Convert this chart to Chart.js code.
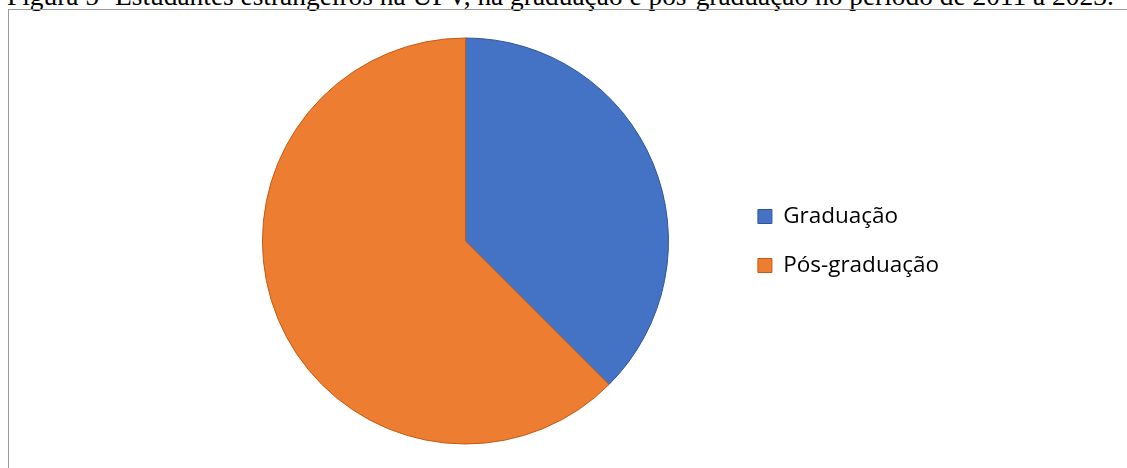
<!DOCTYPE html>
<html>
<head>
<meta charset="utf-8">
<script src="https://cdn.jsdelivr.net/npm/chart.js@4/dist/chart.umd.min.js"></script>
<style>
body { margin:0; background:#fff; overflow:hidden; width:1127px; height:468px; position:relative; }
#titulo { position:absolute; left:7px; top:-17.5px; font-family:"Liberation Serif","Times New Roman",serif; font-size:27.4px; line-height:27.4px; color:#000; white-space:nowrap; }
#moldura { position:absolute; left:8px; top:9px; width:1200px; height:600px; border-left:1px solid #9a9a9a; border-top:1px solid #9a9a9a; }
#grafico { position:absolute; left:0; top:0; }
</style>
</head>
<body>
<div id="titulo">Figura 5- Estudantes estrangeiros na UFV, na graduação e pós-graduação no período de 2011 a 2023.</div>
<div id="moldura"></div>
<canvas id="grafico" width="1127" height="468"></canvas>
<script>
// categorias e valores (percentual estimado da figura)
var categorias = ["Graduação", "Pós-graduação"];
var valores = [37.5, 62.5];
var cores = ["#4472C4", "#ED7D31"];
var bordas = ["#2F5597", "#C55A11"];

var ctx = document.getElementById('grafico').getContext('2d');
var chart = new Chart(ctx, {
    type: 'pie',
    data: {
        labels: categorias,
        datasets: [{
            data: valores,
            backgroundColor: cores,
            borderColor: bordas,
            borderWidth: 1,
            hoverOffset: 0
        }]
    },
    options: {
        responsive: false,
        animation: false,
        devicePixelRatio: 1,
        radius: 203,
        layout: { padding: { left: 199.5, right: 178, top: 30, bottom: 16 } },
        plugins: {
            tooltip: { enabled: false },
            legend: {
                position: 'right',
                labels: {
                    boxWidth: 14,
                    boxHeight: 14,
                    padding: 26.5,
                    color: '#000',
                    font: { family: 'Open Sans', size: 22.5 }
                }
            }
        }
    }
});
</script>
</body>
</html>
